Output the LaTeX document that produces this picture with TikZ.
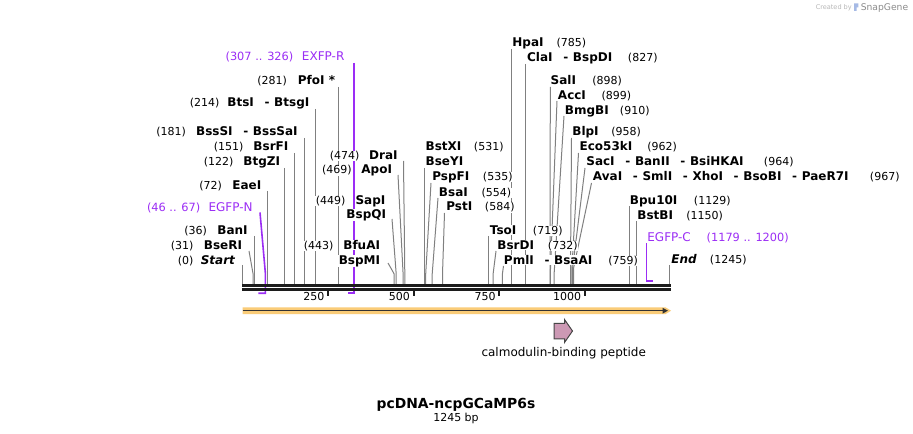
\documentclass[tikz,border=0pt]{standalone}
\usepackage{fontspec}
\setmainfont{DejaVu Sans}
\usetikzlibrary{arrows.meta}
\definecolor{prim}{RGB}{155,45,245}
\definecolor{cutline}{RGB}{128,128,128}
\definecolor{bb}{RGB}{28,28,28}
\definecolor{featfill}{RGB}{250,204,120}
\definecolor{pepfill}{RGB}{204,153,180}
\definecolor{pepline}{RGB}{70,70,70}
\newcommand{\dsep}{\hspace{8pt}-\hspace{3.5pt}}
\newcommand{\LL}[5]{\node[nm,anchor=base east] at (#1,{#2+4.3}) {#3};\node[num,anchor=base east] at (#4,{#2+4.3}) {#5};}
\newcommand{\RR}[5]{\node[nm,anchor=base west] at (#1,{#2+4.3}) {#3};\node[num,anchor=base west] at (#4,{#2+4.3}) {#5};}
\begin{document}
\begin{tikzpicture}[x=0.75pt,y=-0.75pt,
  nm/.style={font=\bfseries\fontsize{9}{11}\selectfont, inner sep=0.3pt, fill=white},
  num/.style={font=\fontsize{8.25}{10}\selectfont, inner sep=0.3pt, fill=white},
  prm/.style={font=\fontsize{9}{11}\selectfont, text=prim, inner sep=0.3pt, fill=white},
  prmnum/.style={font=\fontsize{8.5}{10}\selectfont, text=prim, inner sep=0.3pt, fill=white},
  cut/.style={draw=cutline, line width=0.75pt},
  primline/.style={draw=prim, line width=1.2pt},
  ticklbl/.style={font=\fontsize{8.25}{10}\selectfont, anchor=base east, inner sep=0pt}]
\useasboundingbox (0,0) rectangle (913,434);
\fill[white] (0,0) rectangle (913,434);

% watermark
\node[font=\fontsize{4.9}{6}\selectfont, text=black!28, anchor=base east, inner sep=0pt] (wm1) at (852,9.5) {Created by};
\fill[cyan!45!blue!35] (854.2,3.5) rectangle (856.6,11) (856.6,3.5) rectangle (858.4,7.5);
\node[font=\fontsize{6.9}{8}\selectfont, text=black!45, anchor=base west, inner sep=0pt] (wm2) at (860.5,10.5) {SnapGene};

% cut-site lines (top -> bend -> backbone)
\draw[cut] (242.5,265) -- (242.5,284);
\draw[cut] (249,251) -- (253.1,274) -- (253.1,284);
\draw[cut] (254.8,236) -- (254.8,284);
\draw[cut] (267.2,191) -- (267.2,284);
\draw[cut] (284.3,168) -- (284.3,284);
\draw[cut] (294.2,153) -- (294.2,284);
\draw[cut] (304.5,138) -- (304.5,284);
\draw[cut] (315.8,109) -- (315.8,284);
\draw[cut] (338.7,87) -- (338.7,284);
\draw[cut] (388,263) -- (394.2,274) -- (394.2,284);
\draw[cut] (392,219) -- (396.2,274) -- (396.2,284);
\draw[cut] (398,175) -- (403.1,274) -- (403.1,284);
\draw[cut] (403.5,161) -- (404.8,274) -- (404.8,284);
\draw[cut] (424.3,168) -- (424.3,284);
\draw[cut] (431,183) -- (425.7,274) -- (425.7,284);
\draw[cut] (438,198) -- (432.2,274) -- (432.2,284);
\draw[cut] (444.5,213) -- (442.5,274) -- (442.5,284);
\draw[cut] (488.7,236) -- (488.7,284);
\draw[cut] (496,251) -- (493.1,274) -- (493.1,284);
\draw[cut] (503.5,266) -- (502.4,274) -- (502.4,284);
\draw[cut] (511.3,49) -- (511.3,284);
\draw[cut] (525.7,64) -- (525.7,284);
\draw[cut] (550.3,87) -- (550,274) -- (550,284);
\draw[cut] (557,101) -- (550.3,274) -- (550.3,284);
\draw[cut] (564,116) -- (554.1,274) -- (554.1,284);
\draw[cut] (571.5,138) -- (570.5,268) -- (570.5,284);
\draw[cut] (578.5,153) -- (571.9,268) -- (571.9,284);
\draw[cut] (585,168) -- (572.6,268) -- (572.6,284);
\draw[cut] (591.5,183) -- (573.6,268) -- (573.6,284);
\draw[cut] (629.1,206) -- (629.1,284);
\draw[cut] (636.3,221) -- (636.3,284);
\draw[cut] (669,265) -- (669,284);

% primers
\draw[primline] (260,212.5) -- (265.4,273.5) -- (265.4,293.3) -- (258.3,293.3);
\draw[primline] (354.1,63) -- (354.1,293.3) -- (347.6,293.3);
\draw[primline] (646.5,243.5) -- (646.5,281) -- (653.4,281);

% backbone
\draw[bb, line width=2pt] (242,285.3) -- (670.5,285.3);
\draw[bb, line width=1.9pt] (242,289.6) -- (670.5,289.6);

% ticks
\foreach \p/\t in {250/250,500/500,750/750,1000/1000}{
  \pgfmathsetmacro{\xx}{242.5+0.3424*\p}
  \draw[bb, line width=1.5pt] (\xx,290.5) -- (\xx,296.5);
  \node[ticklbl] at ({\xx-3.5},301) {\t};
}

% feature bar
\fill[featfill] (242.5,307.3) -- (665.5,307.3) -- (671,310.7) -- (665.5,314.1) -- (242.5,314.1) -- cycle;
\draw[draw=bb!90, line width=1.1pt, -{Triangle[length=4pt,width=4pt]}] (242.5,310.7) -- (668,310.7);

% calmodulin-binding peptide
\draw[fill=pepfill, draw=pepline, line width=0.75pt] (554,323.5) -- (564.5,323.5) -- (564.5,319.5) -- (572.5,331) -- (564.5,342.5) -- (564.5,338.8) -- (554,338.8) -- cycle;
\node[font=\fontsize{9}{11}\selectfont, anchor=base, inner sep=0pt] (pep) at (563.7,356) {calmodulin-binding peptide};

% left labels
\LL{236}{260}{\textit{Start}}{194}{(0)}
\LL{242.7}{245}{BseRI}{194}{(31)}
\LL{248.3}{230}{BanI}{207.7}{(36)}
\node[prm,anchor=base east] at (253.3,{207+4.3}) {EGFP-N};
\node[prmnum,anchor=base east] at (201,{207+4.3}) {(46 .. 67)};
\LL{262}{185}{EaeI}{222.7}{(72)}
\LL{280.7}{161.7}{BtgZI}{234}{(122)}
\LL{289}{146.7}{BsrFI}{244}{(151)}
\LL{298.3}{131.7}{BssSI\dsep BssSaI}{186.7}{(181)}
\LL{310}{102.3}{BtsI\dsep BtsgI}{220}{(214)}
\LL{335.7}{80}{PfoI *}{287.7}{(281)}
\node[prm,anchor=base east] at (345,{56.7+4.3}) {EXFP-R};
\node[prmnum,anchor=base east] at (294,{56.7+4.3}) {(307 .. 326)};
\LL{380.7}{245}{BfuAI}{334}{(443)}
\node[nm,anchor=base east] at (380.7,{260+4.3}) {BspMI};
\LL{386}{200}{SapI}{346}{(449)}
\node[nm,anchor=base east] at (386.7,{214.3+4.3}) {BspQI};
\LL{392.7}{169.5}{ApoI}{352.3}{(469)}
\LL{398.3}{155}{DraI}{360}{(474)}

% right labels
\RR{425}{146.7}{BstXI}{473.3}{(531)}
\node[nm,anchor=base west] at (425,{161.7+4.3}) {BseYI};
\RR{431.7}{176}{PspFI}{482.3}{(535)}
\RR{438.3}{192.3}{BsaI}{481}{(554)}
\RR{445.7}{206.7}{PstI}{484.3}{(584)}
\RR{489.3}{230}{TsoI}{532.3}{(719)}
\RR{496.7}{245}{BsrDI}{547.3}{(732)}
\RR{503.3}{260}{PmlI\dsep BsaAI}{607.7}{(759)}
\RR{511.7}{42.5}{HpaI}{556}{(785)}
\RR{526.5}{57}{ClaI\dsep BspDI}{627.3}{(827)}
\RR{550}{80.7}{SalI}{591.7}{(898)}
\RR{557.3}{95}{AccI}{601}{(899)}
\RR{564.3}{110}{BmgBI}{619.3}{(910)}
\RR{571.7}{131.7}{BlpI}{610.7}{(958)}
\RR{579}{146.7}{Eco53kI}{646.7}{(962)}
\RR{585.7}{161.7}{SacI\dsep BanII\dsep BsiHKAI}{763.3}{(964)}
\RR{592.3}{176.7}{AvaI\dsep SmlI\dsep XhoI\dsep BsoBI\dsep PaeR7I}{869.3}{(967)}
\RR{629.3}{200}{Bpu10I}{693.3}{(1129)}
\RR{636.7}{215}{BstBI}{685.7}{(1150)}
\node[prm,anchor=base west] at (646.7,{237.3+4.3}) {EGFP-C};
\node[prmnum,anchor=base west] at (706,{237.3+4.3}) {(1179 .. 1200)};
\RR{670.7}{259.3}{\textit{End}}{709.3}{(1245)}

% title
\node[font=\bfseries\fontsize{10.4}{12}\selectfont, anchor=base, inner sep=0pt] (title) at (456,408) {pcDNA-ncpGCaMP6s};
\node[font=\fontsize{8.25}{10}\selectfont, anchor=base, inner sep=0pt] (len) at (456,421.5) {1245 bp};
\end{tikzpicture}
\end{document}
